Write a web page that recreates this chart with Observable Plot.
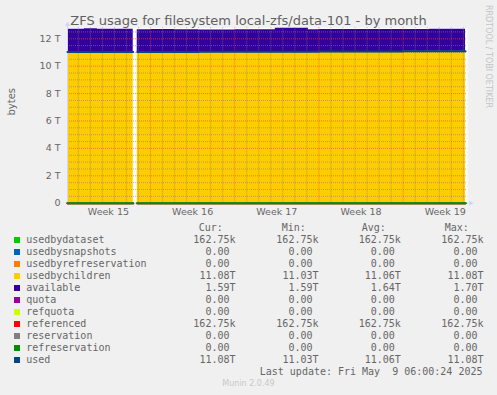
<!DOCTYPE html>
<html><head><meta charset="utf-8">
<script src="https://cdn.jsdelivr.net/npm/d3@7"></script>
<script src="https://cdn.jsdelivr.net/npm/@observablehq/plot@0.6"></script>
<style>
html,body{margin:0;padding:0;background:#f0f0f0;}
#root{position:relative;width:497px;height:395px;background:#f0f0f0;overflow:hidden;}
.abs{position:absolute;white-space:pre;}
#root svg{position:absolute;left:0;top:0;overflow:visible;}
</style></head><body><div id="root"></div>
<script>
// ---- data (values in T) ----
const times = ["2025-04-07T02:24Z","2025-04-08T12:00Z","2025-04-09T14:00Z","2025-04-11T00:00Z","2025-04-12T13:30Z","2025-04-12T15:00Z","2025-04-12T21:30Z","2025-04-14T00:00Z","2025-04-16T00:00Z","2025-04-18T00:00Z","2025-04-21T00:00Z","2025-04-24T09:00Z","2025-04-27T03:00Z","2025-04-28T00:00Z","2025-05-01T00:00Z","2025-05-05T00:00Z","2025-05-07T04:00Z","2025-05-10T04:30Z"];
const usedbychildren = [11.03,11.03,11.03,11.03,11.03,null,11.03,11.04,11.04,11.05,11.06,11.06,11.06,11.07,11.07,11.08,11.08,11.08];
const available = [1.67,1.70,1.67,1.66,1.66,null,1.63,1.63,1.62,1.59,1.59,1.70,1.60,1.60,1.60,1.60,1.61,1.59];
const usedbydataset = 1.6275e-7;   // 162.75k
const referenced = 1.6275e-7;      // 162.75k
const zeroSeries = 0;              // quota, refquota, reservation, refreservation, snapshots

const weekMid = ["2025-04-10T12:00Z","2025-04-17T12:00Z","2025-04-24T12:00Z","2025-05-01T12:00Z","2025-05-08T12:00Z"];
const weekLabels = ["Week 15","Week 16","Week 17","Week 18","Week 19"];
const yTicks = [0,2,4,6,8,10,12];

const legendNames = ["usedbydataset","usedbysnapshots","usedbyrefreservation","usedbychildren","available","quota","refquota","referenced","reservation","refreservation","used"];
const legendColors = ["#00CC00","#0066B3","#FF8000","#FFCC00","#330099","#990099","#CCFF00","#FF0000","#808080","#008F00","#00487D"];
const curVals = ["162.75k","0.00","0.00","11.08T","1.59T","0.00","0.00","162.75k","0.00","0.00","11.08T"];
const minVals = ["162.75k","0.00","0.00","11.03T","1.59T","0.00","0.00","162.75k","0.00","0.00","11.03T"];
const avgVals = ["162.75k","0.00","0.00","11.06T","1.64T","0.00","0.00","162.75k","0.00","0.00","11.06T"];
const maxVals = ["162.75k","0.00","0.00","11.08T","1.70T","0.00","0.00","162.75k","0.00","0.00","11.08T"];
const colHeaders = ["Cur:","Min:","Avg:","Max:"];
const titleText = "ZFS usage for filesystem local-zfs/data-101 - by month";
const yLabel = "bytes";
const lastUpdate = "Last update: Fri May  9 06:00:24 2025";
const watermark = "RRDTOOL / TOBI OETIKER";
const versionText = "Munin 2.0.49";

// ---- build rows ----
const rows = times.map((t, i) => {
  const ch = usedbychildren[i], av = available[i];
  const ok = ch != null;
  return {
    t: new Date(t),
    z: ok ? 0 : null,
    ds: ok ? usedbydataset : null,
    ch: ok ? usedbydataset + ch : null,
    av: ok ? usedbydataset + ch + av : null,
    ref: ok ? referenced : null,
    zero: ok ? zeroSeries : null
  };
});

const x0 = new Date("2025-04-07T02:24Z"), x1 = new Date("2025-05-10T08:24Z");
const days = d3.utcDay.range(d3.utcDay.ceil(x0), x1).filter(d => d.getUTCDay() !== 1);
const mondays = d3.utcMonday.range(x0, x1);
const yMinor = d3.range(0.5, 12.8, 0.5).filter(v => v % 2 !== 0);
const weekLabelMap = new Map(weekMid.map((d, i) => [+new Date(d), weekLabels[i]]));

const axisCol = "#CFD6F8";
const arrowUp = {draw(c){ c.moveTo(0,-2.6); c.lineTo(2.6,1.8); c.lineTo(-2.6,1.8); c.closePath(); }};
const arrowRight = {draw(c){ c.moveTo(2.6,0); c.lineTo(-1.8,2.6); c.lineTo(-1.8,-2.6); c.closePath(); }};
const minorStyle = {stroke: "#808080", strokeOpacity: 0.6, strokeDasharray: "1,1"};
const majorStyle = {stroke: "#FF4040", strokeOpacity: 0.6, strokeDasharray: "1,1"};
const lineOpt = (y, stroke) => ({x: "t", y, stroke, strokeWidth: 2, curve: "step-after"});

const chart = Plot.plot({
  width: 497, height: 220,
  marginLeft: 67, marginRight: 30, marginTop: 27.3, marginBottom: 17.3,
  style: {background: "transparent", fontFamily: "DejaVu Sans", fontSize: "9.5px", color: "#666"},
  x: {type: "utc", domain: [x0, x1]},
  y: {domain: [0, 12.8]},
  marks: [
    Plot.frame({fill: "#fff", stroke: "none"}),
    Plot.areaY(rows, {x: "t", y1: "z", y2: "ds", fill: "#00CC00", curve: "step-after"}),
    Plot.areaY(rows, {x: "t", y1: "ds", y2: "ch", fill: "#FFCC00", curve: "step-after"}),
    Plot.areaY(rows, {x: "t", y1: "ch", y2: "av", fill: "#330099", curve: "step-after"}),
    Plot.ruleX(days, minorStyle),
    Plot.ruleY(yMinor, minorStyle),
    Plot.ruleX(mondays, majorStyle),
    Plot.ruleY(yTicks, majorStyle),
    Plot.ruleX([x0], {stroke: axisCol, y1: 0, y2: 13.15}),
    Plot.ruleY([0], {stroke: axisCol, x1: x0, x2: new Date("2025-05-10T11:00Z")}),
    Plot.lineY(rows, lineOpt("zero", "#990099")),
    Plot.lineY(rows, lineOpt("zero", "#CCFF00")),
    Plot.lineY(rows, lineOpt("ref", "#FF0000")),
    Plot.lineY(rows, lineOpt("zero", "#808080")),
    Plot.lineY(rows, lineOpt("zero", "#008F00")),
    Plot.lineY(rows, lineOpt("ch", "#00487D")),
    Plot.dot([0], {frameAnchor: "top-left", symbol: arrowUp, r: 3, fill: axisCol, stroke: "none", dy: -3.5}),
    Plot.dot([0], {frameAnchor: "bottom-right", symbol: arrowRight, r: 3, fill: axisCol, stroke: "none", dx: 3.5}),
    Plot.axisY({ticks: yTicks, tickFormat: d => d === 0 ? "0" : d + " T", tickSize: 0, tickPadding: 7, label: null}),
    Plot.axisX({ticks: weekMid.map(d => new Date(d)), tickFormat: d => weekLabelMap.get(+d), tickSize: 0, tickPadding: 5, label: null}),
    Plot.text([yLabel], {text: d => d, frameAnchor: "left", dx: -56, rotate: -90, fontSize: 10, fill: "#666"})
  ]
});
const root = document.getElementById("root");
root.appendChild(chart);

// ---- HTML text ----
function put(txt, o) {
  const s = document.createElement("div");
  s.className = "abs";
  s.textContent = txt;
  const fs = o.size;
  s.style.fontSize = fs + "px";
  s.style.lineHeight = fs + "px";
  s.style.fontFamily = o.family || '"DejaVu Sans"';
  s.style.color = o.color || "#666";
  s.style.top = (o.baseline - 0.846 * fs) + "px";
  if (o.right != null) { s.style.right = (497 - o.right) + "px"; s.style.textAlign = "right"; }
  else if (o.center != null) { s.style.left = o.center + "px"; s.style.transform = "translateX(-50%)"; }
  else s.style.left = o.left + "px";
  root.appendChild(s);
  return s;
}
const mono = '"DejaVu Sans Mono"';
put(titleText, {center: 248.5, baseline: 24.5, size: 13, color: "#606060"});
const wm = put(watermark, {left: 491.5, baseline: 5 + 0.846 * 8, size: 8, color: "#c4c4c4"});
wm.style.transformOrigin = "0 0";
wm.style.transform = "rotate(90deg)";

const headerLefts = [198.7, 281.7, 361.8, 444.8];
colHeaders.forEach((h, i) => put(h, {left: headerLefts[i], baseline: 231, size: 10, family: mono}));
const colRights = [235.5, 318.5, 400.8, 483.5];
const fmt = v => /[a-zA-Z]$/.test(v) ? v : v + " ";
legendNames.forEach((n, i) => {
  const b = 243 + 12 * i;
  const sw = document.createElement("div");
  sw.className = "abs";
  Object.assign(sw.style, {left: "14px", top: (b - 6) + "px", width: "6px", height: "6px", background: legendColors[i]});
  root.appendChild(sw);
  put(n, {left: 26.2, baseline: b, size: 10, family: mono});
  [curVals, minVals, avgVals, maxVals].forEach((arr, j) => put(fmt(arr[i]), {right: colRights[j], baseline: b, size: 10, family: mono}));
});
put(lastUpdate, {right: 482.5, baseline: 375, size: 10, family: mono});
put(versionText, {center: 248.5, baseline: 386.5, size: 8, color: "#c8c8c8"});
</script>
</body></html>
